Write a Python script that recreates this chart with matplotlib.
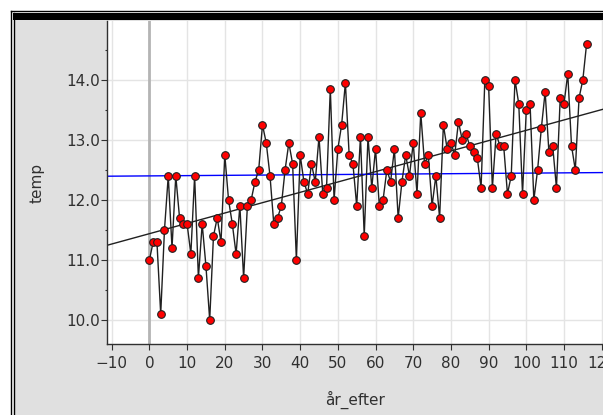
import numpy as np
import matplotlib.pyplot as plt
from matplotlib.patches import Rectangle
from matplotlib.lines import Line2D
from matplotlib.ticker import MultipleLocator, FormatStrFormatter

# år efter start (0..116) and yearly mean temperature
ar_efter = list(range(0, 117))
temp = [11.0, 11.3, 11.3, 10.1, 11.5, 12.4, 11.2, 12.4, 11.7, 11.6,
        11.6, 11.1, 12.4, 10.7, 11.6, 10.9, 10.0, 11.4, 11.7, 11.3,
        12.75, 12.0, 11.6, 11.1, 11.9, 10.7, 11.9, 12.0, 12.3, 12.5,
        13.25, 12.95, 12.4, 11.6, 11.7, 11.9, 12.5, 12.95, 12.6, 11.0,
        12.75, 12.3, 12.1, 12.6, 12.3, 13.05, 12.1, 12.2, 13.85, 12.0,
        12.85, 13.25, 13.95, 12.75, 12.6, 11.9, 13.05, 11.4, 13.05, 12.2,
        12.85, 11.9, 12.0, 12.5, 12.3, 12.85, 11.7, 12.3, 12.75, 12.4,
        12.95, 12.1, 13.45, 12.6, 12.75, 11.9, 12.4, 11.7, 13.25, 12.85,
        12.95, 12.75, 13.3, 13.0, 13.1, 12.9, 12.8, 12.7, 12.2, 14.0,
        13.9, 12.2, 13.1, 12.9, 12.9, 12.1, 12.4, 14.0, 13.6, 12.1,
        13.5, 13.6, 12.0, 12.5, 13.2, 13.8, 12.8, 12.9, 12.2, 13.7,
        13.6, 14.1, 12.9, 12.5, 13.7, 14.0, 14.6]

# movable (blue) line: slope, intercept
blue_line = [0.00046, 12.40]

xlim = (-11.17, 120.35)
ylim = (9.6, 14.98)

W, H = 603, 415
fig = plt.figure(figsize=(W / 100, H / 100), dpi=100, facecolor='white')

# TI-Nspire style frame
fig.patches.append(Rectangle((14 / W, 0), 1, (H - 20.5) / H, transform=fig.transFigure,
                             facecolor='#e0e0e0', edgecolor='none', zorder=-5))
fig.patches.append(Rectangle((13 / W, (H - 20.5) / H), 1, 7.5 / H, transform=fig.transFigure,
                             facecolor='black', edgecolor='none', zorder=-4))
fig.lines.append(Line2D([10.5 / W, 10.5 / W], [0, (H - 11) / H], transform=fig.transFigure,
                        color='black', lw=1, zorder=-4))
fig.lines.append(Line2D([10.5 / W, 1], [(H - 11) / H, (H - 11) / H], transform=fig.transFigure,
                        color='black', lw=1, zorder=-4))
fig.lines.append(Line2D([13.5 / W, 13.5 / W], [0, (H - 13) / H], transform=fig.transFigure,
                        color='black', lw=1, zorder=-4))

ax = fig.add_axes([107.3 / W, 71 / H, 1 - 107.3 / W, (344 - 21) / H])
ax.set_facecolor('white')
ax.set_xlim(*xlim)
ax.set_ylim(*ylim)

ax.xaxis.set_major_locator(MultipleLocator(10))
ax.yaxis.set_major_locator(MultipleLocator(1))
ax.yaxis.set_minor_locator(MultipleLocator(0.5))
ax.yaxis.set_major_formatter(FormatStrFormatter('%.1f'))
ax.grid(True, which='major', color='#e4e4e4', lw=1)
ax.set_axisbelow(True)
ax.axvline(0, color='#b4b4b4', lw=2, zorder=1)

for s in ['top', 'right']:
    ax.spines[s].set_visible(False)
for s in ['left', 'bottom']:
    ax.spines[s].set_color('#303030')
    ax.spines[s].set_linewidth(1)

ax.tick_params(axis='both', which='major', direction='out', length=4.5, width=0.8,
               color='#303030', labelsize=11, labelcolor='#303030')
ax.tick_params(axis='y', which='major', pad=0.5)
ax.tick_params(axis='x', which='major', pad=4)
ax.tick_params(axis='y', which='minor', direction='out', length=1.5, width=0.8, color='#303030')

# regression line and blue line across the whole window
x = np.array(ar_efter)
y = np.array(temp)
k, m = np.polyfit(x, y, 1)
xs = np.array(xlim)
ax.plot(xs, k * xs + m, color='#202020', lw=1, zorder=2)
ax.plot(xs, blue_line[0] * xs + blue_line[1], color='#0000ff', lw=1, zorder=2)

ax.plot(x, y, color='#202020', lw=1, marker='o', markersize=5.5,
        markerfacecolor='#ff0000', markeredgecolor='#202020', markeredgewidth=0.8, zorder=3,
        clip_on=False)

ax.set_xlabel('år_efter', fontsize=11, color='#303030')
ax.xaxis.set_label_coords(0.5, -0.173)
ax.xaxis.label.set_va('center')
ax.set_ylabel('temp', fontsize=11, color='#303030')
ax.yaxis.set_label_coords(-0.1424, 0.5)
ax.yaxis.label.set_va('center')

fig.savefig('out.png', dpi=100, facecolor=fig.get_facecolor())
